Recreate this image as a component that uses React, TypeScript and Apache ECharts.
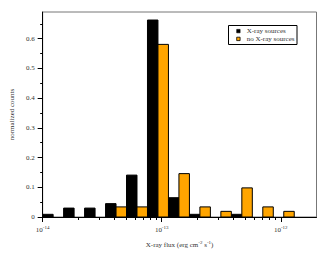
import React, { useEffect, useRef } from "react";
import * as echarts from "echarts";

// Bin edges (flux, erg cm^-2 s^-1): 13 bins, each a factor 1.5 wide
const binEdges = [
  1.0e-14, 1.5e-14, 2.25e-14, 3.375e-14, 5.0625e-14, 7.594e-14, 1.139e-13,
  1.709e-13, 2.563e-13, 3.844e-13, 5.767e-13, 8.65e-13, 1.2975e-12, 1.946e-12,
];
const xraySources = [0.009, 0.03, 0.03, 0.045, 0.141, 0.663, 0.065, 0.009, 0, 0.009, 0, 0, 0];
const noXraySources = [0, 0, 0, 0.034, 0.034, 0.581, 0.146, 0.034, 0.019, 0.098, 0.034, 0.019, 0];

const majorXTicks = [-14, -13, -12];
const minorXFactors = [2, 3, 4, 5, 6, 7, 8, 9];
const yMajorTicks = [0, 0.1, 0.2, 0.3, 0.4, 0.5, 0.6];
const yMinorTicks = [0.05, 0.15, 0.25, 0.35, 0.45, 0.55, 0.65];

const ORANGE = "#ffa500";
const FONT = "Liberation Serif";
const TEXT = "#333";

export default function App() {
  const ref = useRef<HTMLDivElement>(null);
  useEffect(() => {
    if (!ref.current) return;
    const chart = echarts.init(ref.current, undefined, { renderer: "svg" });

    const lg = (v: number) => Math.log10(v);
    const minorX: number[] = [];
    for (const d of [-14, -13, -12]) {
      for (const f of minorXFactors) {
        const v = d + Math.log10(f);
        if (v <= -11.69) minorX.push(v);
      }
    }
    const blackData = xraySources.map((v, i) => {
      const lo = lg(binEdges[i]);
      const hi = lg(binEdges[i + 1]);
      return [lo, (lo + hi) / 2, v];
    });
    const orangeData = noXraySources.map((v, i) => {
      const lo = lg(binEdges[i]);
      const hi = lg(binEdges[i + 1]);
      return [(lo + hi) / 2, hi, v];
    });

    const renderBar = (color: string) => (params: any, api: any) => {
      const v = api.value(2);
      if (!v) return null;
      const p0 = api.coord([api.value(0), 0]);
      const p1 = api.coord([api.value(1), v]);
      return {
        type: "rect",
        shape: { x: p0[0], y: p1[1], width: p1[0] - p0[0], height: p0[1] - p1[1] },
        style: { fill: color, stroke: "#000", lineWidth: 1 },
      };
    };

    const labelStyle = { fontFamily: FONT, fontSize: 7, color: TEXT };
    const supRich = {
      s: { fontFamily: FONT, fontSize: 5, color: TEXT, verticalAlign: "top", padding: [0, 0, 4, 0] },
    };

    chart.setOption({
      animation: false,
      grid: {
        left: 25,
        top: 12,
        right: 13.5,
        bottom: 38,
        show: true,
        borderColor: "#777",
        borderWidth: 1,
        backgroundColor: "transparent",
      },
      xAxis: [
        {
          type: "value",
          position: "bottom",
          min: -14,
          max: -11.7,
          axisLine: { show: true, lineStyle: { color: "#000", width: 1 } },
          axisTick: { show: true, length: 5, customValues: majorXTicks, lineStyle: { color: "#000" } },
          axisLabel: {
            show: true,
            customValues: majorXTicks,
            margin: 8,
            ...labelStyle,
            formatter: (v: number) => `10{s|${Math.round(v)}}`,
            rich: supRich,
          },
          splitLine: { show: false },
          name: "X-ray flux (erg cm{s|-2} s{s|-1})",
          nameLocation: "middle",
          nameGap: 23,
          nameTextStyle: { ...labelStyle, rich: supRich },
        },
        {
          type: "value",
          position: "bottom",
          min: -14,
          max: -11.7,
          axisLine: { show: false },
          axisTick: { show: true, length: 3, customValues: minorX, lineStyle: { color: "#000" } },
          axisLabel: { show: false },
          splitLine: { show: false },
        },
      ],
      yAxis: [
        {
          type: "value",
          position: "left",
          min: 0,
          max: 0.69,
          axisLine: { show: true, lineStyle: { color: "#000", width: 1 } },
          axisTick: { show: true, length: 5, customValues: yMajorTicks, lineStyle: { color: "#000" } },
          axisLabel: {
            show: true,
            customValues: yMajorTicks,
            margin: 8,
            ...labelStyle,
            formatter: (v: number) => (v === 0 ? "0" : v.toFixed(1)),
          },
          splitLine: { show: false },
          name: "normalized counts",
          nameLocation: "middle",
          nameGap: 19,
          nameRotate: 90,
          nameTextStyle: { ...labelStyle },
        },
        {
          type: "value",
          position: "left",
          min: 0,
          max: 0.69,
          axisLine: { show: false },
          axisTick: { show: true, length: 2.5, customValues: yMinorTicks, lineStyle: { color: "#000" } },
          axisLabel: { show: false },
          splitLine: { show: false },
        },
      ],
      series: [
        {
          name: "X-ray sources",
          type: "custom",
          xAxisIndex: 0,
          yAxisIndex: 0,
          renderItem: renderBar("#000"),
          encode: { x: [0, 1], y: 2 },
          data: blackData,
          clip: true,
        },
        {
          name: "no X-ray sources",
          type: "custom",
          xAxisIndex: 0,
          yAxisIndex: 0,
          renderItem: renderBar(ORANGE),
          encode: { x: [0, 1], y: 2 },
          data: orangeData,
          clip: true,
        },
      ],
      graphic: [
        {
          type: "rect",
          shape: { x: 228.5, y: 25.5, width: 68.5, height: 19 },
          style: { fill: "#fff", stroke: "#000", lineWidth: 1 },
          z: 100,
        },
        {
          type: "rect",
          shape: { x: 236.7, y: 29.4, width: 3.4, height: 3.4 },
          style: { fill: "#000", stroke: "#000", lineWidth: 0.6 },
          z: 101,
        },
        {
          type: "rect",
          shape: { x: 236.7, y: 37.2, width: 3.4, height: 3.4 },
          style: { fill: ORANGE, stroke: "#000", lineWidth: 0.8 },
          z: 101,
        },
        {
          type: "text",
          x: 246.7,
          y: 31.2,
          style: { text: "X-ray sources", font: `7px "${FONT}"`, fill: TEXT, verticalAlign: "middle" },
          z: 101,
        },
        {
          type: "text",
          x: 246.7,
          y: 39,
          style: { text: "no X-ray sources", font: `7px "${FONT}"`, fill: TEXT, verticalAlign: "middle" },
          z: 101,
        },
      ],
    });
    return () => chart.dispose();
  }, []);
  return <div ref={ref} style={{ width: 330, height: 255, position: "absolute", left: 0, top: 0 }} />;
}
